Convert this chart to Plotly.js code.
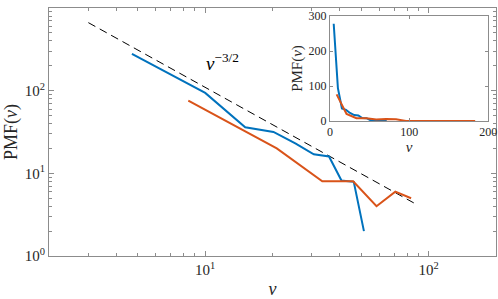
<!DOCTYPE html>
<html>
<head>
<meta charset="utf-8">
<script src="https://cdn.plot.ly/plotly-3.0.1.min.js"></script>
<style>html,body{margin:0;padding:0;background:#fff;}#chart{width:498px;height:299px;}</style>
</head>
<body>
<div id="chart"></div>
<script>
// Blue series (bins of ~5)
const blueNu  = [4.7, 10, 15.1, 20.2, 25.3, 30.6, 35.8, 40.7, 46.2, 51.3, 56.4, 61.5, 66.6, 71.7];
const bluePmf = [278, 94, 36, 31.7, 23, 17, 16, 8.2, 7.9, 2.0, 0, 0, 0, 0];
// Orange series (bins of ~12.5)
const orangeNu  = [8.4, 20.9, 33.4, 45.9, 58.4, 70.9, 83.4, 95.9, 108.4, 120.9, 133.4, 145.9, 158.4, 170.9, 183.4];
const orangePmf = [76, 20, 8, 8, 4, 6, 5, 0, 0, 0, 0, 1, 0, 0, 0];
// Reference slope nu^(-3/2)
const refNu  = [3, 89];
const refPmf = [665, 4.15];

const mainXTicks = [10, 100];
const mainXTickText = ['10<sup>1</sup>', '10<sup>2</sup>'];
const mainYTicks = [1, 10, 100, 1000];
const mainYTickText = ['10<sup>0</sup>', '10<sup>1</sup>', '10<sup>2</sup>', '10<sup>3</sup>'];
const minorX = [2,3,4,5,6,7,8,9,20,30,40,50,60,70,80,90,200];
const minorY = [2,3,4,5,6,7,8,9,20,30,40,50,60,70,80,90,200,300,400,500,600,700,800,900];
const insetXTicks = [0, 100, 200];
const insetYTicks = [0, 100, 200, 300];

const BLUE = '#0072BD', ORANGE = '#D95319';
const FONT = 'Liberation Serif, Times New Roman, serif';
const TXT = '#262626', AX = '#8c8c8c';

// on a log axis, zero counts cannot be drawn: leave gaps there
const logSafe = arr => arr.map(v => (v > 0 ? v : null));

const traces = [
  {x: refNu, y: refPmf, type: 'scatter', mode: 'lines', line: {color: '#000', width: 1, dash: '8px,5px'}, xaxis: 'x', yaxis: 'y', hoverinfo: 'skip'},
  {x: blueNu, y: logSafe(bluePmf), type: 'scatter', mode: 'lines', connectgaps: false, line: {color: BLUE, width: 2}, xaxis: 'x', yaxis: 'y'},
  {x: orangeNu, y: logSafe(orangePmf), type: 'scatter', mode: 'lines', connectgaps: false, line: {color: ORANGE, width: 2}, xaxis: 'x', yaxis: 'y'},
  {x: blueNu, y: bluePmf, type: 'scatter', mode: 'lines', line: {color: BLUE, width: 2}, xaxis: 'x2', yaxis: 'y2'},
  {x: orangeNu, y: orangePmf, type: 'scatter', mode: 'lines', line: {color: ORANGE, width: 2}, xaxis: 'x2', yaxis: 'y2'}
];

const axBase = {showline: true, linecolor: AX, linewidth: 1, mirror: 'allticks', ticks: 'inside', tickcolor: AX, showgrid: false, zeroline: false, tickfont: {family: FONT, size: 15, color: TXT}};

const layout = {
  width: 498, height: 299,
  margin: {l: 49, r: 2, t: 8, b: 43},
  paper_bgcolor: '#fff', plot_bgcolor: '#fff',
  showlegend: false,
  xaxis: Object.assign({}, axBase, {
    type: 'log', range: [Math.log10(2), Math.log10(200)], domain: [0, 1], anchor: 'y',
    tickmode: 'array', tickvals: mainXTicks, ticktext: mainXTickText, ticklen: 5,
    minor: {tickmode: 'array', tickvals: minorX, ticks: 'inside', ticklen: 3, tickcolor: AX},
    title: {text: '<i>ν</i>', font: {family: FONT, size: 18, color: TXT}, standoff: 6}
  }),
  yaxis: Object.assign({}, axBase, {
    type: 'log', range: [0, 3], domain: [0, 1], anchor: 'x',
    tickmode: 'array', tickvals: mainYTicks, ticktext: mainYTickText, ticklen: 5,
    minor: {tickmode: 'array', tickvals: minorY, ticks: 'inside', ticklen: 3, tickcolor: AX},
    title: {text: 'PMF(<i>ν</i>)', font: {family: FONT, size: 18, color: TXT}, standoff: 2}
  }),
  xaxis2: Object.assign({}, axBase, {
    range: [0, 200], domain: [0.6286, 0.9828], anchor: 'y2',
    tickmode: 'array', tickvals: insetXTicks, ticklen: 3,
    tickfont: {family: FONT, size: 12, color: TXT},
    title: {text: '<i>ν</i>', font: {family: FONT, size: 15, color: TXT}, standoff: 2}
  }),
  yaxis2: Object.assign({}, axBase, {
    range: [0, 300], domain: [0.5444, 0.9677], anchor: 'x2',
    tickmode: 'array', tickvals: insetYTicks, ticklen: 3,
    tickfont: {family: FONT, size: 12, color: TXT},
    title: {text: 'PMF(<i>ν</i>)', font: {family: FONT, size: 15, color: TXT}, standoff: 2}
  }),
  annotations: [
    {xref: 'x', yref: 'y', x: 1.079, y: 2.35, text: '<i>ν</i><sup>−3/2</sup>', showarrow: false,
     font: {family: FONT, size: 19, color: '#000'}}
  ]
};

Plotly.newPlot('chart', traces, layout, {staticPlot: true, displayModeBar: false});
</script>
</body>
</html>
